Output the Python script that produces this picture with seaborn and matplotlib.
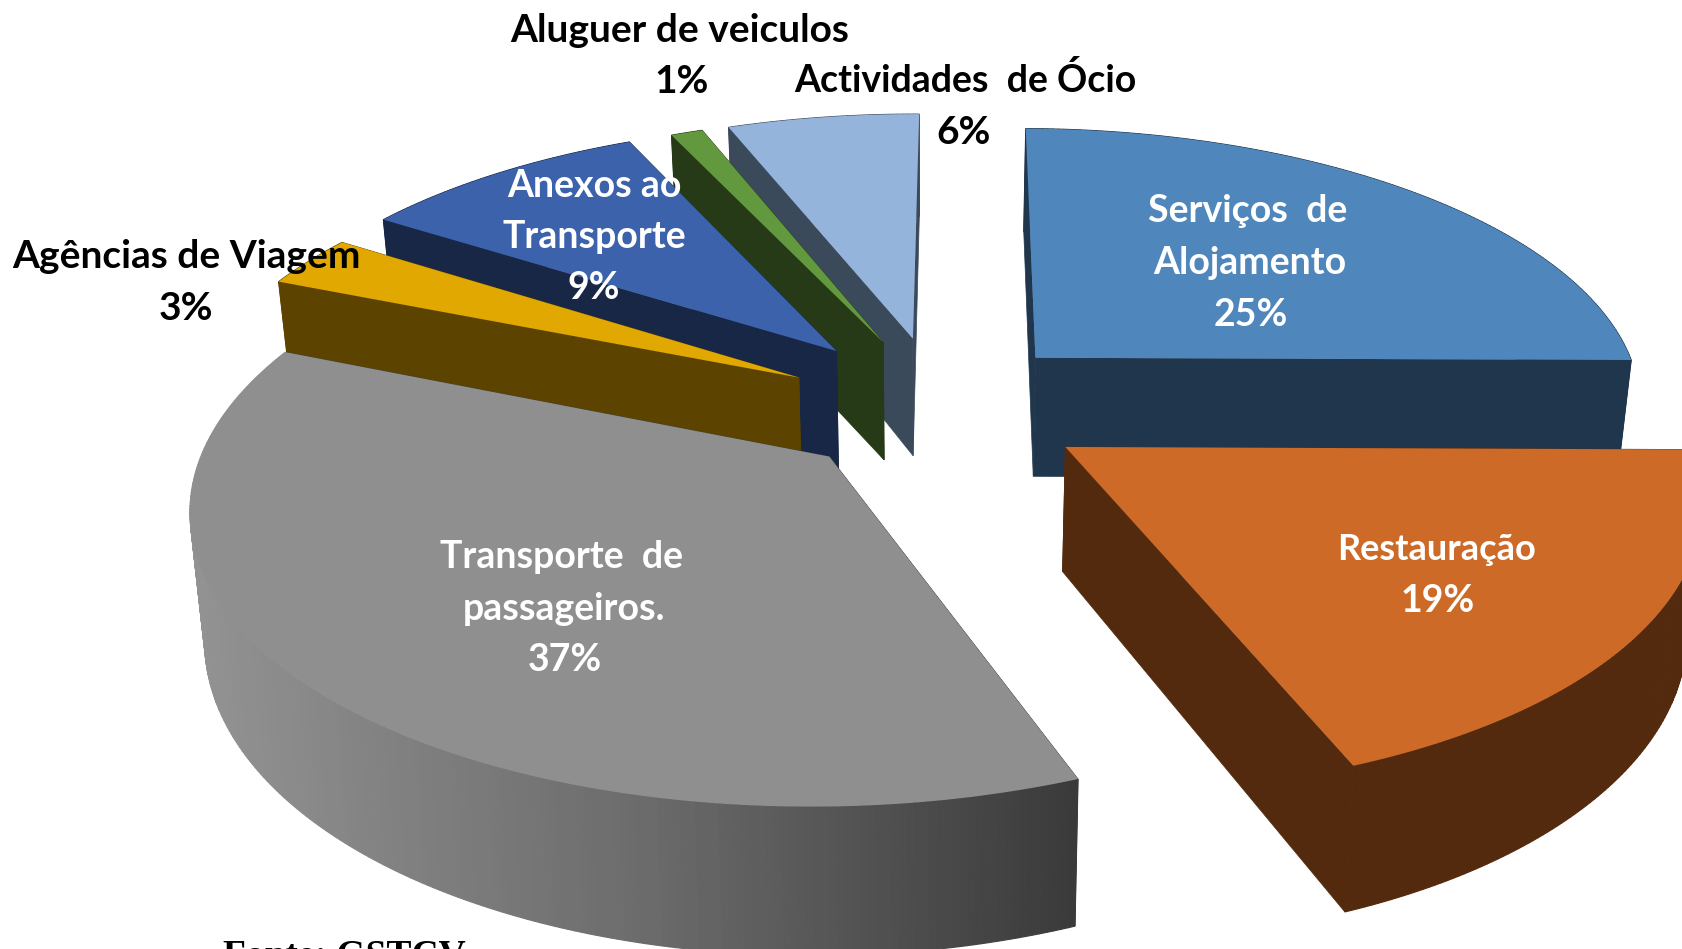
import numpy as np
import seaborn as sns
from matplotlib import pyplot as plt

# podaci
categorias = ['Serviços de Alojamento', 'Restauração', 'Transporte de passageiros.',
              'Agências de Viagem', 'Anexos ao Transporte', 'Aluguer de veiculos', 'Actividades de Ócio']
valores = [25, 19, 37, 3, 9, 1, 6]

# izgled kriski
explode = [0.26, 0.26, 0.23, 0.24, 0.26, 0.255, 0.26]
kut_pomak = [-1, -3, -3, 0, 5, 6, 5]
cor_topo = ['#4F86BB', '#CD6A27', '#8F8F8F', '#E0A800', '#3B62AA', '#62993F', '#95B4DC']
cor_lado = ['#20364D', '#542A0F', '#3B3B3B', '#5C4400', '#172745', '#273A17', '#3B4A5B']
ordem = [6, 5, 4, 3, 0, 1, 2]

cx, cy = 927, 408
R, Rb, k = 612, 279, 0.155
dubina = 122
rotacija = 0.5

# tekst: (linija, x, y, boja, velicina)
tekst = [('Aluguer de veiculos', 680, 30, 'black', 28), ('1%', 682, 81, 'black', 28),
         ('Actividades  de Ócio', 965, 80, 'black', 27), ('6%', 964, 132, 'black', 28),
         ('Agências de Viagem', 186, 257, 'black', 28), ('3%', 186, 309, 'black', 28),
         ('Anexos ao', 594, 186, 'white', 27), ('Transporte', 594, 237, 'white', 27), ('9%', 594, 288, 'white', 27),
         ('Serviços  de', 1248, 211, 'white', 27), ('Alojamento', 1250, 263, 'white', 27), ('25%', 1251, 315, 'white', 27),
         ('Restauração', 1437, 550, 'white', 26), ('19%', 1438, 601, 'white', 27),
         ('Transporte  de', 562, 557, 'white', 27), ('passageiros.', 564, 609, 'white', 27), ('37%', 565, 660, 'white', 27)]

sns.set_theme(style='white')
plt.rcParams['font.family'] = ['Lato', 'DejaVu Sans']

fig = plt.figure(figsize=(16.83, 9.49), dpi=100)
ax = fig.add_axes([0, 0, 1, 1])
ax.set_xlim(0, 1683)
ax.set_ylim(949, 0)
ax.axis('off')


def projekcija(X, Y, dolje=False):
    w = 1 + k * Y
    x = R * X / w
    y = -Rb * Y / w
    if dolje:
        return cx + x * 0.98, cy + y + dubina / w
    return cx + x, cy + y


# kutevi iz postotaka
granice = np.cumsum([0] + valores) / sum(valores) * 360 + rotacija

for i in ordem:
    t0, t1 = np.radians(granice[i]), np.radians(granice[i + 1])
    sred = (t0 + t1) / 2 + np.radians(kut_pomak[i])
    ox, oy = explode[i] * np.sin(sred), explode[i] * np.cos(sred)
    t = np.linspace(t0, t1, max(int(valores[i] * 6), 8))
    Xl = np.r_[ox, ox + np.sin(t), ox]
    Yl = np.r_[oy, oy + np.cos(t), oy]
    xg, yg = projekcija(Xl, Yl)
    xd, yd = projekcija(Xl, Yl, dolje=True)

    # radijalne stranice
    for a, b in [(0, 1), (-2, -1)]:
        ax.fill([xg[a], xg[b], xd[b], xd[a]], [yg[a], yg[b], yd[b], yd[a]],
                color=cor_lado[i], lw=0.5)

    # vanjski zid, samo siva kriska ima gradijent
    n = len(t)
    if categorias[i].startswith('Transporte'):
        paleta = sns.blend_palette(['#929292', '#6C6C6C', '#3A3A3A'], 100)
        x_min, x_max = xg[1:n + 1].min(), xg[1:n + 1].max()
    for j in range(1, n):
        if categorias[i].startswith('Transporte'):
            c = paleta[int((xg[j] - x_min) / (x_max - x_min) * 99)]
        else:
            c = cor_lado[i]
        ax.fill([xg[j], xg[j + 1], xd[j + 1], xd[j]], [yg[j], yg[j + 1], yd[j + 1], yd[j]],
                color=c, lw=0.8)

    ax.fill(xg, yg, color=cor_topo[i], lw=0)

for linija, x, y, boja, vel in tekst:
    ax.text(x, y, linija, ha='center', va='center', color=boja, fontsize=vel, fontweight='bold')

ax.text(223, 966, 'Fonte: GSTCV', ha='left', va='baseline', color='black', fontsize=27,
        fontweight='bold', family='Liberation Serif', clip_on=False)

fig.savefig('out.png', dpi=100)
